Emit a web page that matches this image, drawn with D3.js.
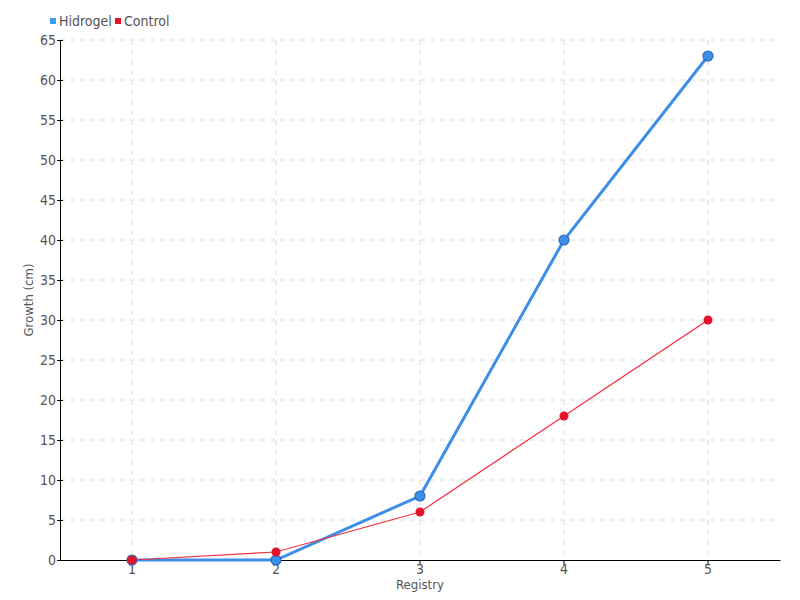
<!DOCTYPE html>
<html>
<head>
<meta charset="utf-8">
<script src="https://cdn.jsdelivr.net/npm/d3@7"></script>
<style>
body { margin: 0; background: #fff; }
svg text { font-family: "Liberation Sans Narrow", "DejaVu Sans Condensed", "Roboto", sans-serif; fill: #555; }
</style>
</head>
<body>
<svg width="800" height="600"></svg>
<script>
var svg = d3.select('svg');
var margin = {left: 60, right: 20, top: 40, bottom: 40};
var width = 800 - margin.left - margin.right;
var height = 600 - margin.top - margin.bottom;

var categories = ['1', '2', '3', '4', '5'];
var hidrogel = [0, 0, 8, 40, 63];
var control = [0, 1, 6, 18, 30];
var yTicks = d3.range(0, 66, 5);

var x = d3.scaleBand().domain(categories).range([0, width]);
var y = d3.scaleLinear().domain([0, 65]).range([height, 0]);
var cx = function(d, i) { return x(categories[i]) + x.bandwidth() / 2; };

var g = svg.append('g').attr('transform', 'translate(' + margin.left + ',' + margin.top + ')');

// grid
g.selectAll('.hgrid').data(yTicks.slice(1)).enter().append('line')
.attr('x1', 0).attr('x2', width)
.attr('y1', function(d){ return y(d); }).attr('y2', function(d){ return y(d); })
.attr('stroke', '#ddd').attr('stroke-dasharray', '5,5');
g.selectAll('.vgrid').data(categories).enter().append('line')
.attr('x1', function(d){ return x(d) + x.bandwidth() / 2; })
.attr('x2', function(d){ return x(d) + x.bandwidth() / 2; })
.attr('y1', 0).attr('y2', height)
.attr('stroke', '#ddd').attr('stroke-dasharray', '5,5');

// axes
var xAxis = g.append('g').attr('transform', 'translate(0,' + height + ')')
.call(d3.axisBottom(x).tickSize(5).tickSizeOuter(0));
var yAxis = g.append('g')
.call(d3.axisLeft(y).tickValues(yTicks).tickSize(5).tickSizeOuter(0));
[xAxis, yAxis].forEach(function(a) {
	a.select('.domain').attr('stroke', '#000');
	a.selectAll('.tick line').attr('stroke', '#000');
	a.selectAll('.tick text').attr('font-size', '14px').style('fill', '#555');
});
yAxis.selectAll('.tick line').attr('x2', 3).attr('x1', -3);
yAxis.selectAll('.tick text').attr('x', -4);
xAxis.selectAll('.tick text').attr('y', 4);

g.append('text').attr('x', width / 2).attr('y', height + 29)
.attr('text-anchor', 'middle').attr('font-size', '13px').text('Registry');
g.append('text').attr('transform', 'translate(-27,' + (height / 2) + ') rotate(-90)')
.attr('text-anchor', 'middle').attr('font-size', '13px').text('Growth (cm)');

// lines
var line = d3.line().x(cx).y(function(d){ return y(d); });
g.append('path').datum(hidrogel).attr('d', line)
.attr('fill', 'none').attr('stroke', '#3d8ee8').attr('stroke-width', 3);
g.append('path').datum(control).attr('d', line)
.attr('fill', 'none').attr('stroke', '#f0303e').attr('stroke-width', 1.2);

g.selectAll('.hp').data(hidrogel).enter().append('circle')
.attr('cx', cx).attr('cy', function(d){ return y(d); }).attr('r', 5)
.attr('fill', '#3d8ee8').attr('stroke', '#2a6cc0').attr('stroke-width', 1.2);
g.selectAll('.cp').data(control).enter().append('circle')
.attr('cx', cx).attr('cy', function(d){ return y(d); }).attr('r', 4.5)
.attr('fill', '#e3132a');

// legend
var legend = [{name: 'Hidrogel', color: '#3d9cf0'}, {name: 'Control', color: '#e8102a'}];
var lx = [50, 115];
legend.forEach(function(d, i) {
	svg.append('rect').attr('x', lx[i]).attr('y', 18).attr('width', 6).attr('height', 6).attr('fill', d.color);
	svg.append('text').attr('x', lx[i] + 9).attr('y', 26).attr('font-size', '14px').text(d.name);
});
</script>
</body>
</html>
